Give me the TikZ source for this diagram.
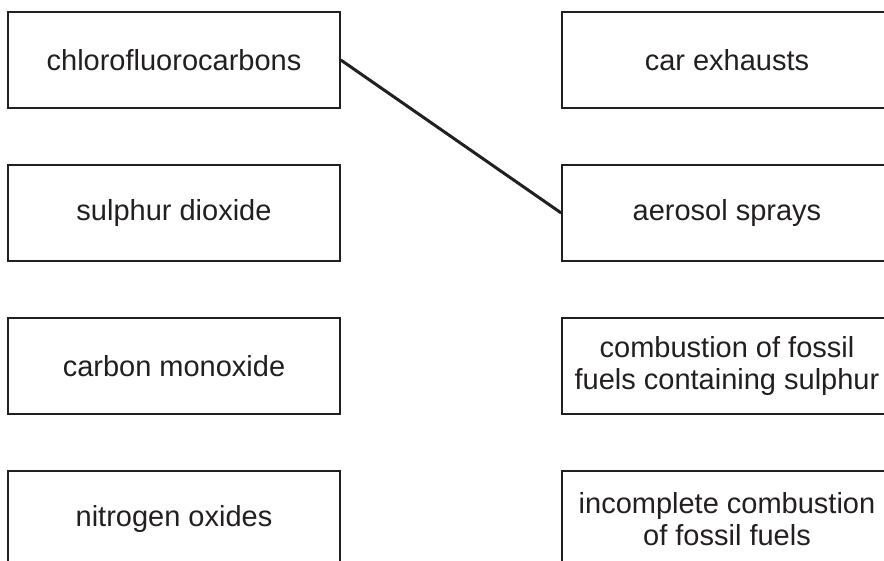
\documentclass[tikz,border=0pt]{standalone}
\usepackage{fontspec}
\setmainfont{Liberation Sans}
\definecolor{ink}{HTML}{231F20}
\begin{document}
\begin{tikzpicture}[x=1pt,y=-1pt,
  box/.style={draw=ink, line width=1.6pt, rectangle, minimum height=96pt,
    align=center, text=ink, inner sep=0pt,
    font=\fontsize{29}{32}\selectfont},
  lbox/.style={box, minimum width=332pt},
  rbox/.style={box, minimum width=330pt},
  link/.style={draw=ink, line width=3pt}]
\useasboundingbox (0,0) rectangle (884,561);
\clip (0,0) rectangle (884,561);
\node[lbox] (l1) at (174,60)  {chlorofluorocarbons};
\node[lbox] (l2) at (174,213) {sulphur dioxide};
\node[lbox] (l3) at (174,366) {carbon monoxide};
\node[lbox] (l4) at (174,519) {nitrogen oxides};
\node[rbox] (r1) at (727,60)  {car exhausts};
\node[rbox] (r2) at (727,213) {aerosol sprays};
\node[rbox] (r3) at (727,366) {combustion of fossil\\fuels containing sulphur};
\node[rbox] (r4) at (727,519) {incomplete combustion\\of fossil fuels};
\draw[link] (l1.east) -- (r2.west);
\end{tikzpicture}
\end{document}
